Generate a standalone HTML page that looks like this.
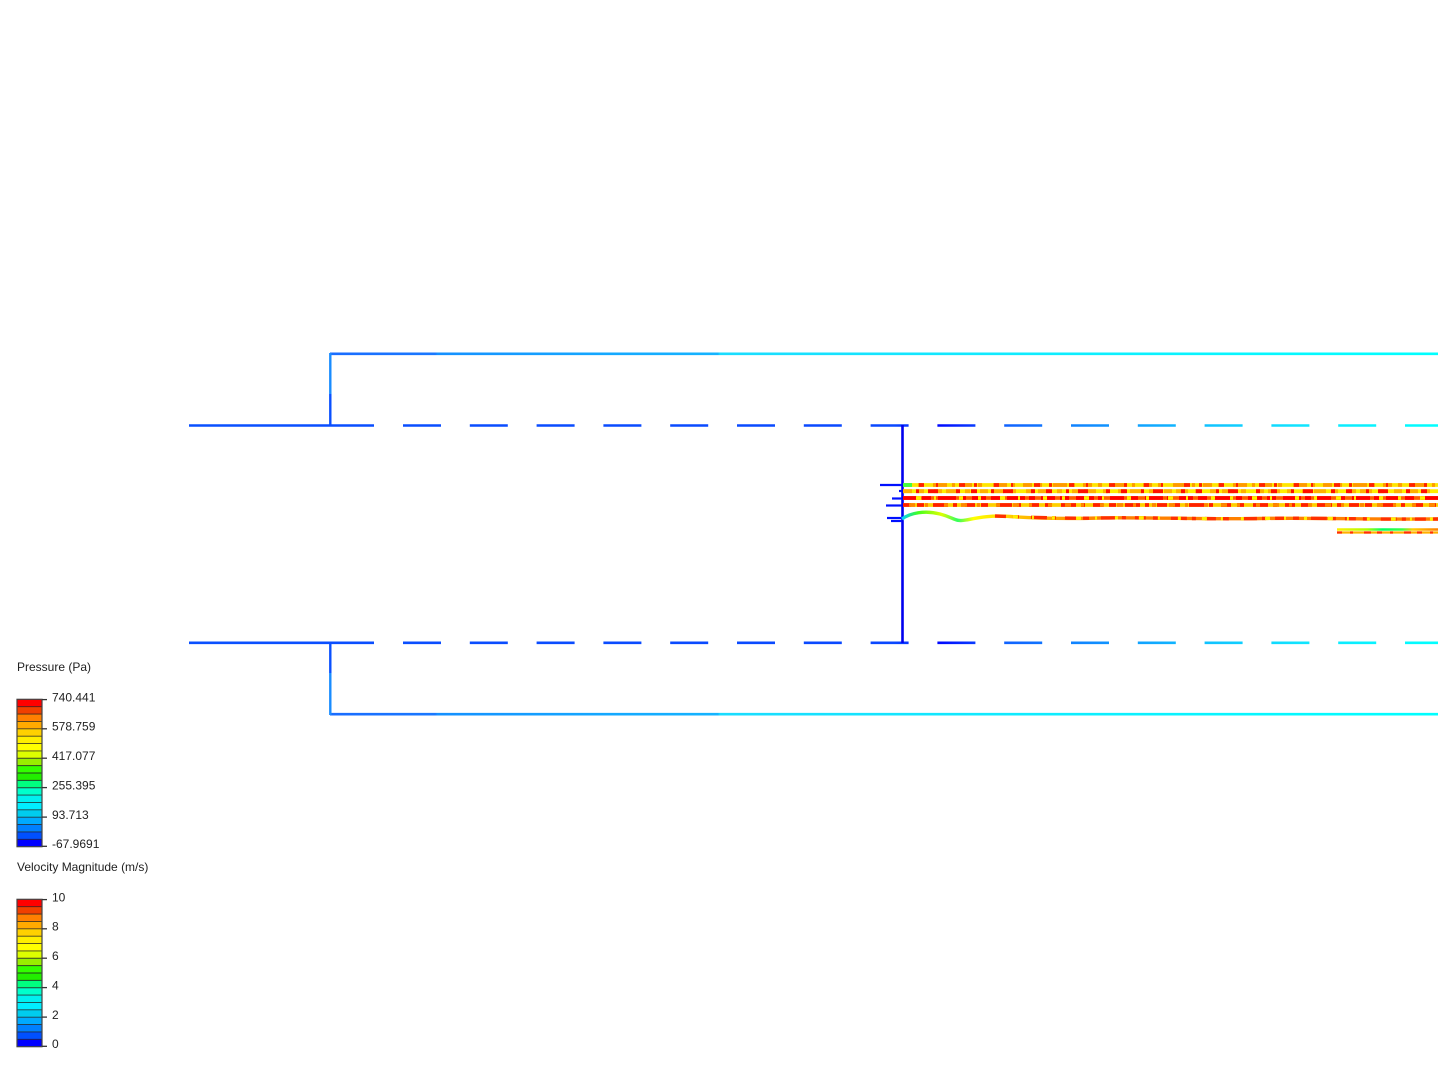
<!DOCTYPE html>
<html>
<head>
<meta charset="utf-8">
<style>
html,body{margin:0;padding:0;background:#fff;}
body{width:1440px;height:1080px;overflow:hidden;position:relative;font-family:"Liberation Sans",Arial,sans-serif;}
svg{position:absolute;left:0;top:0;}
</style>
</head>
<body>
<svg width="1440" height="1080" viewBox="0 0 1440 1080" xmlns="http://www.w3.org/2000/svg">
<defs>
  <linearGradient id="outer" gradientUnits="userSpaceOnUse" x1="330" y1="0" x2="1438" y2="0">
    <stop offset="0" stop-color="#1a6cff"/>
    <stop offset="0.095" stop-color="#1a78ff"/>
    <stop offset="0.097" stop-color="#1490ff"/>
    <stop offset="0.25" stop-color="#14a8ff"/>
    <stop offset="0.35" stop-color="#14b4ff"/>
    <stop offset="0.352" stop-color="#1adcff"/>
    <stop offset="0.6" stop-color="#10eaff"/>
    <stop offset="1" stop-color="#00ffff"/>
  </linearGradient>
  <linearGradient id="dash" gradientUnits="userSpaceOnUse" x1="189" y1="0" x2="1438" y2="0">
    <stop offset="0" stop-color="#0a50ff"/>
    <stop offset="0.565" stop-color="#0a48ff"/>
    <stop offset="0.60" stop-color="#0008ff"/>
    <stop offset="0.65" stop-color="#1060ff"/>
    <stop offset="0.73" stop-color="#1090ff"/>
    <stop offset="0.81" stop-color="#10c0ff"/>
    <stop offset="0.89" stop-color="#10e4ff"/>
    <stop offset="1" stop-color="#00ffff"/>
  </linearGradient>
  <linearGradient id="wave" gradientUnits="userSpaceOnUse" x1="902" y1="0" x2="1100" y2="0">
    <stop offset="0" stop-color="#00d0ff"/>
    <stop offset="0.08" stop-color="#40ff20"/>
    <stop offset="0.2" stop-color="#ddff00"/>
    <stop offset="0.28" stop-color="#30ff60"/>
    <stop offset="0.36" stop-color="#ffff00"/>
    <stop offset="0.6" stop-color="#ffc000"/>
    <stop offset="1" stop-color="#ff8000"/>
  </linearGradient>
  <linearGradient id="short1" gradientUnits="userSpaceOnUse" x1="1337" y1="0" x2="1438" y2="0">
    <stop offset="0" stop-color="#ffee00"/>
    <stop offset="0.3" stop-color="#aaff00"/>
    <stop offset="0.45" stop-color="#00ff60"/>
    <stop offset="0.65" stop-color="#40ff40"/>
    <stop offset="0.75" stop-color="#ffcc00"/>
    <stop offset="1" stop-color="#ff8000"/>
  </linearGradient>
</defs>

<!-- outer walls -->
<line x1="330" y1="353.8" x2="1438" y2="353.8" stroke="url(#outer)" stroke-width="2.6"/>
<line x1="330" y1="714.2" x2="1438" y2="714.2" stroke="url(#outer)" stroke-width="2.6"/>
<line x1="330.3" y1="353" x2="330.3" y2="394" stroke="#1a8cff" stroke-width="2.4"/>
<line x1="330.3" y1="394" x2="330.3" y2="426" stroke="#0a50ff" stroke-width="2.4"/>
<line x1="330.3" y1="642" x2="330.3" y2="673" stroke="#0a50ff" stroke-width="2.4"/>
<line x1="330.3" y1="673" x2="330.3" y2="715" stroke="#1a8cff" stroke-width="2.4"/>

<!-- dashed lines -->
<g stroke="url(#dash)" stroke-width="2.6">
  <line x1="189" y1="425.5" x2="374" y2="425.5"/>
  <line x1="403" y1="425.5" x2="1438" y2="425.5" stroke-dasharray="38 28.8"/>
  <line x1="189" y1="642.8" x2="374" y2="642.8"/>
  <line x1="403" y1="642.8" x2="1438" y2="642.8" stroke-dasharray="38 28.8"/>
</g>

<!-- baffle -->
<line x1="902.5" y1="425" x2="902.5" y2="643" stroke="#0000ee" stroke-width="2.6"/>

<!-- blue stubs -->
<g stroke="#0010ff" stroke-width="2.2">
  <line x1="880" y1="485" x2="902" y2="485"/>
  <line x1="899" y1="491" x2="902" y2="491"/>
  <line x1="892" y1="498.5" x2="902" y2="498.5"/>
  <line x1="886" y1="505.5" x2="902" y2="505.5"/>
  <line x1="887" y1="518" x2="902" y2="518"/>
  <line x1="891" y1="521" x2="902" y2="521"/>
</g>

<!-- streamlines -->
<g stroke-width="3.8" fill="none">
  <!-- line 1 -->
  <line x1="903" y1="485" x2="1438" y2="485" stroke="#ffe600"/>
  <line x1="903" y1="485" x2="1438" y2="485" stroke="#ff9a00" stroke-dasharray="9 6 4 11 14 5 3 8"/>
  <line x1="903" y1="485" x2="1438" y2="485" stroke="#ff2000" stroke-dasharray="3 17 5 12 2 21 6 9" stroke-dashoffset="4"/>
  <line x1="903" y1="485" x2="912" y2="485" stroke="#40ff40"/>
  <!-- line 2 -->
  <line x1="903" y1="491.2" x2="1438" y2="491.2" stroke="#ffee00"/>
  <line x1="903" y1="491.2" x2="1438" y2="491.2" stroke="#ffb000" stroke-dasharray="12 7 5 10 8 4" stroke-dashoffset="3"/>
  <line x1="903" y1="491.2" x2="1438" y2="491.2" stroke="#ff1000" stroke-dasharray="6 14 3 9 10 18 4 11" stroke-dashoffset="7"/>
  <!-- line 3 -->
  <line x1="903" y1="498" x2="1438" y2="498" stroke="#ff6000"/>
  <line x1="903" y1="498" x2="1438" y2="498" stroke="#ff0000" stroke-dasharray="14 5 9 7 18 4 6 6"/>
  <line x1="903" y1="498" x2="1438" y2="498" stroke="#ffee00" stroke-dasharray="3 19 5 13 2 23 4 15" stroke-dashoffset="9"/>
  <!-- line 4 -->
  <line x1="903" y1="505" x2="1438" y2="505" stroke="#ffd000"/>
  <line x1="903" y1="505" x2="1438" y2="505" stroke="#ff2000" stroke-dasharray="10 6 7 9 15 5 4 8" stroke-dashoffset="2"/>
  <line x1="903" y1="505" x2="1438" y2="505" stroke="#ff8800" stroke-dasharray="4 13 6 10 3 16" stroke-dashoffset="11"/>
  <!-- wavy line -->
  <path d="M902,519 C910,513 925,510 940,514 S955,522 966,520 S990,515 1010,516.5 S1060,519 1100,518 S1200,519.5 1260,518.5 S1340,519.5 1438,519" stroke="url(#wave)" stroke-width="3.4"/>
  <path d="M995,516 S1060,519 1100,518 S1200,519.5 1260,518.5 S1340,519.5 1438,519" stroke="#ff3000" stroke-width="3.4" stroke-dasharray="11 7 6 12 16 5 4 9"/>
  <path d="M995,516 S1060,519 1100,518 S1200,519.5 1260,518.5 S1340,519.5 1438,519" stroke="#ffee00" stroke-width="3.4" stroke-dasharray="3 21 5 14 2 18" stroke-dashoffset="6"/>
  <!-- short bottom-right piece -->
  <line x1="1337" y1="529.5" x2="1438" y2="529.5" stroke="url(#short1)" stroke-width="2.4"/>
  <line x1="1337" y1="532.5" x2="1438" y2="532.5" stroke="#ffb000" stroke-width="2.2"/>
  <line x1="1337" y1="532.5" x2="1438" y2="532.5" stroke="#ff3000" stroke-width="2.2" stroke-dasharray="5 8 3 11 7 6"/>
</g>

<!-- Legends -->
<g font-family="Liberation Sans, Arial, sans-serif" font-size="12" fill="#222">
  <text x="17" y="671">Pressure (Pa)</text>
  <text x="52" y="701.5">740.441</text>
  <text x="52" y="730.5">578.759</text>
  <text x="52" y="760">417.077</text>
  <text x="52" y="789.5">255.395</text>
  <text x="52" y="819">93.713</text>
  <text x="52" y="848">-67.9691</text>

  <text x="17" y="871">Velocity Magnitude (m/s)</text>
  <text x="52" y="901.5">10</text>
  <text x="52" y="930.5">8</text>
  <text x="52" y="960">6</text>
  <text x="52" y="989.5">4</text>
  <text x="52" y="1019">2</text>
  <text x="52" y="1048">0</text>
</g>

<!-- colorbar 1 -->
<g id="cb1" transform="translate(17,699.3)">
  <rect x="0" y="0" width="25" height="7.37" fill="#ff0000"/>
  <rect x="0" y="7.37" width="25" height="7.37" fill="#f04000"/>
  <rect x="0" y="14.74" width="25" height="7.37" fill="#ff8000"/>
  <rect x="0" y="22.11" width="25" height="7.37" fill="#ffaa00"/>
  <rect x="0" y="29.48" width="25" height="7.37" fill="#ffd000"/>
  <rect x="0" y="36.85" width="25" height="7.37" fill="#ffee00"/>
  <rect x="0" y="44.22" width="25" height="7.37" fill="#ffff00"/>
  <rect x="0" y="51.59" width="25" height="7.37" fill="#ddff00"/>
  <rect x="0" y="58.96" width="25" height="7.37" fill="#99ee00"/>
  <rect x="0" y="66.33" width="25" height="7.37" fill="#33ff00"/>
  <rect x="0" y="73.70" width="25" height="7.37" fill="#22ee00"/>
  <rect x="0" y="81.07" width="25" height="7.37" fill="#00ff80"/>
  <rect x="0" y="88.44" width="25" height="7.37" fill="#00ffcc"/>
  <rect x="0" y="95.81" width="25" height="7.37" fill="#00f0f0"/>
  <rect x="0" y="103.18" width="25" height="7.37" fill="#00eeff"/>
  <rect x="0" y="110.55" width="25" height="7.37" fill="#00ccee"/>
  <rect x="0" y="117.92" width="25" height="7.37" fill="#00aaff"/>
  <rect x="0" y="125.29" width="25" height="7.37" fill="#0080ff"/>
  <rect x="0" y="132.66" width="25" height="7.37" fill="#0050ff"/>
  <rect x="0" y="140.03" width="25" height="7.37" fill="#0000ff"/>
  <g stroke="#222" stroke-width="0.9" opacity="0.85">
    <line x1="0" y1="7.37" x2="25" y2="7.37"/>
    <line x1="0" y1="14.74" x2="25" y2="14.74"/>
    <line x1="0" y1="22.11" x2="25" y2="22.11"/>
    <line x1="0" y1="29.48" x2="25" y2="29.48"/>
    <line x1="0" y1="36.85" x2="25" y2="36.85"/>
    <line x1="0" y1="44.22" x2="25" y2="44.22"/>
    <line x1="0" y1="51.59" x2="25" y2="51.59"/>
    <line x1="0" y1="58.96" x2="25" y2="58.96"/>
    <line x1="0" y1="66.33" x2="25" y2="66.33"/>
    <line x1="0" y1="73.70" x2="25" y2="73.70"/>
    <line x1="0" y1="81.07" x2="25" y2="81.07"/>
    <line x1="0" y1="88.44" x2="25" y2="88.44"/>
    <line x1="0" y1="95.81" x2="25" y2="95.81"/>
    <line x1="0" y1="103.18" x2="25" y2="103.18"/>
    <line x1="0" y1="110.55" x2="25" y2="110.55"/>
    <line x1="0" y1="117.92" x2="25" y2="117.92"/>
    <line x1="0" y1="125.29" x2="25" y2="125.29"/>
    <line x1="0" y1="132.66" x2="25" y2="132.66"/>
    <line x1="0" y1="140.03" x2="25" y2="140.03"/>
  </g>
  <rect x="0" y="0" width="25" height="147.4" fill="none" stroke="#444" stroke-width="1.2"/>
  <g stroke="#333" stroke-width="1.3">
    <line x1="25" y1="0.3" x2="30" y2="0.3"/>
    <line x1="25" y1="29.5" x2="30" y2="29.5"/>
    <line x1="25" y1="58.9" x2="30" y2="58.9"/>
    <line x1="25" y1="88.3" x2="30" y2="88.3"/>
    <line x1="25" y1="117.8" x2="30" y2="117.8"/>
    <line x1="25" y1="147" x2="30" y2="147"/>
  </g>
</g>
<use href="#cb1" transform="translate(0,200)"/>
</svg>
</body>
</html>
